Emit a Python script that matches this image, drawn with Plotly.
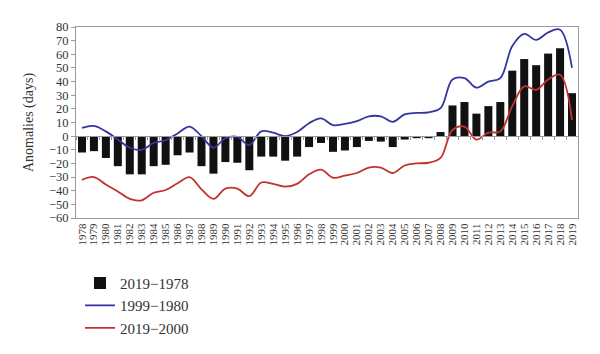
import plotly.graph_objects as go

years = [str(y) for y in range(1978, 2020)]

anom_1978_2019 = [-12, -11, -16, -22, -28, -28, -22, -21, -14, -12,
                  -22, -27.5, -19, -19.5, -25, -15, -15, -18, -15, -8,
                  -5, -11.5, -10.5, -8, -3.5, -4, -8, -2.5, -1.5, -1.5,
                  3, 22.5, 25, 16.5, 22, 25, 48, 56.5, 52, 60.5, 64.5, 31.5]

anom_1980_1999 = [6, 7.5, 3.5, -2.5, -8.5, -10, -5, -3, 2, 7,
                  0, -8.5, -1.5, -0.5, -6.5, 3.5, 2.5, 0, 3, 9.5,
                  13, 8, 9, 11, 14.5, 14.5, 10.5, 16, 17, 17.5,
                  20.5, 41.5, 42.5, 35.5, 40, 42.5, 66, 75, 70.5, 76, 78, 50]

anom_2000_2019 = [-32, -30, -35.5, -40.5, -46, -47, -41.5, -39.5, -34.5, -30,
                  -39, -46, -38.5, -38.5, -44, -34, -35, -37, -35, -28,
                  -24.5, -30.5, -29, -27, -23, -23, -27, -21.5, -20, -19.5,
                  -16, 4.5, 7, -2.5, 2.5, 3.5, 22, 36.5, 34, 41.5, 45, 12]

font_family = "Liberation Serif, Times New Roman, serif"
axis_grey = "#9a9a9a"
text_col = "#333333"

fig = go.Figure()
fig.add_trace(go.Bar(x=years, y=anom_1978_2019, name="2019\u22121978",
                     marker=dict(color="#111111", line=dict(width=0))))
fig.add_trace(go.Scatter(x=years, y=anom_1980_1999, name="1999\u22121980",
                         mode="lines", line=dict(color="#3535a0", width=1.8, shape="spline", smoothing=1.0)))
fig.add_trace(go.Scatter(x=years, y=anom_2000_2019, name="2019\u22122000",
                         mode="lines", line=dict(color="#c0332e", width=1.8, shape="spline", smoothing=1.0)))
# dummy trace on the overlay axis so tick marks are drawn along the zero line
fig.add_trace(go.Scatter(x=years, y=[None] * len(years), xaxis="x2", showlegend=False, hoverinfo="skip"))

ymin, ymax = -60, 80
fig.update_layout(
    width=600, height=354,
    margin=dict(l=76, r=22, t=27, b=136, autoexpand=False),
    paper_bgcolor="white", plot_bgcolor="white",
    font=dict(family=font_family, color=text_col, size=13),
    bargap=0.33,
    showlegend=True,
    legend=dict(x=0.008, y=-0.255, xanchor="left", yanchor="top",
                font=dict(family=font_family, size=15, color=text_col),
                bgcolor="rgba(0,0,0,0)", itemwidth=30),
    xaxis=dict(type="category", categoryorder="array", categoryarray=years,
               tickmode="linear", dtick=1,
               showline=True, linecolor=axis_grey, linewidth=1, mirror=True,
               ticks="", tickangle=-90, tickfont=dict(size=11, family=font_family, color=text_col),
               showgrid=False, zeroline=False, automargin=False),
    xaxis2=dict(type="category", categoryorder="array", categoryarray=years,
                overlaying="x", matches="x", anchor="free",
                position=(0 - ymin) / (ymax - ymin),
                tickmode="linear", dtick=1,
                showline=True, linecolor=axis_grey, linewidth=1,
                ticks="outside", ticklen=3, tickcolor=axis_grey, tickson="boundaries",
                showticklabels=False, showgrid=False, zeroline=False),
    yaxis=dict(range=[ymin, ymax], dtick=10, tick0=0,
               showline=True, linecolor=axis_grey, linewidth=1, mirror=True,
               ticks="outside", ticklen=4, tickcolor=axis_grey,
               tickfont=dict(size=12.5, family=font_family, color=text_col),
               showgrid=False, zeroline=False, automargin=False,
               title=dict(text="Anomalies (days)", font=dict(size=14, family=font_family, color=text_col), standoff=12)),
)

fig.write_html("out.html")
